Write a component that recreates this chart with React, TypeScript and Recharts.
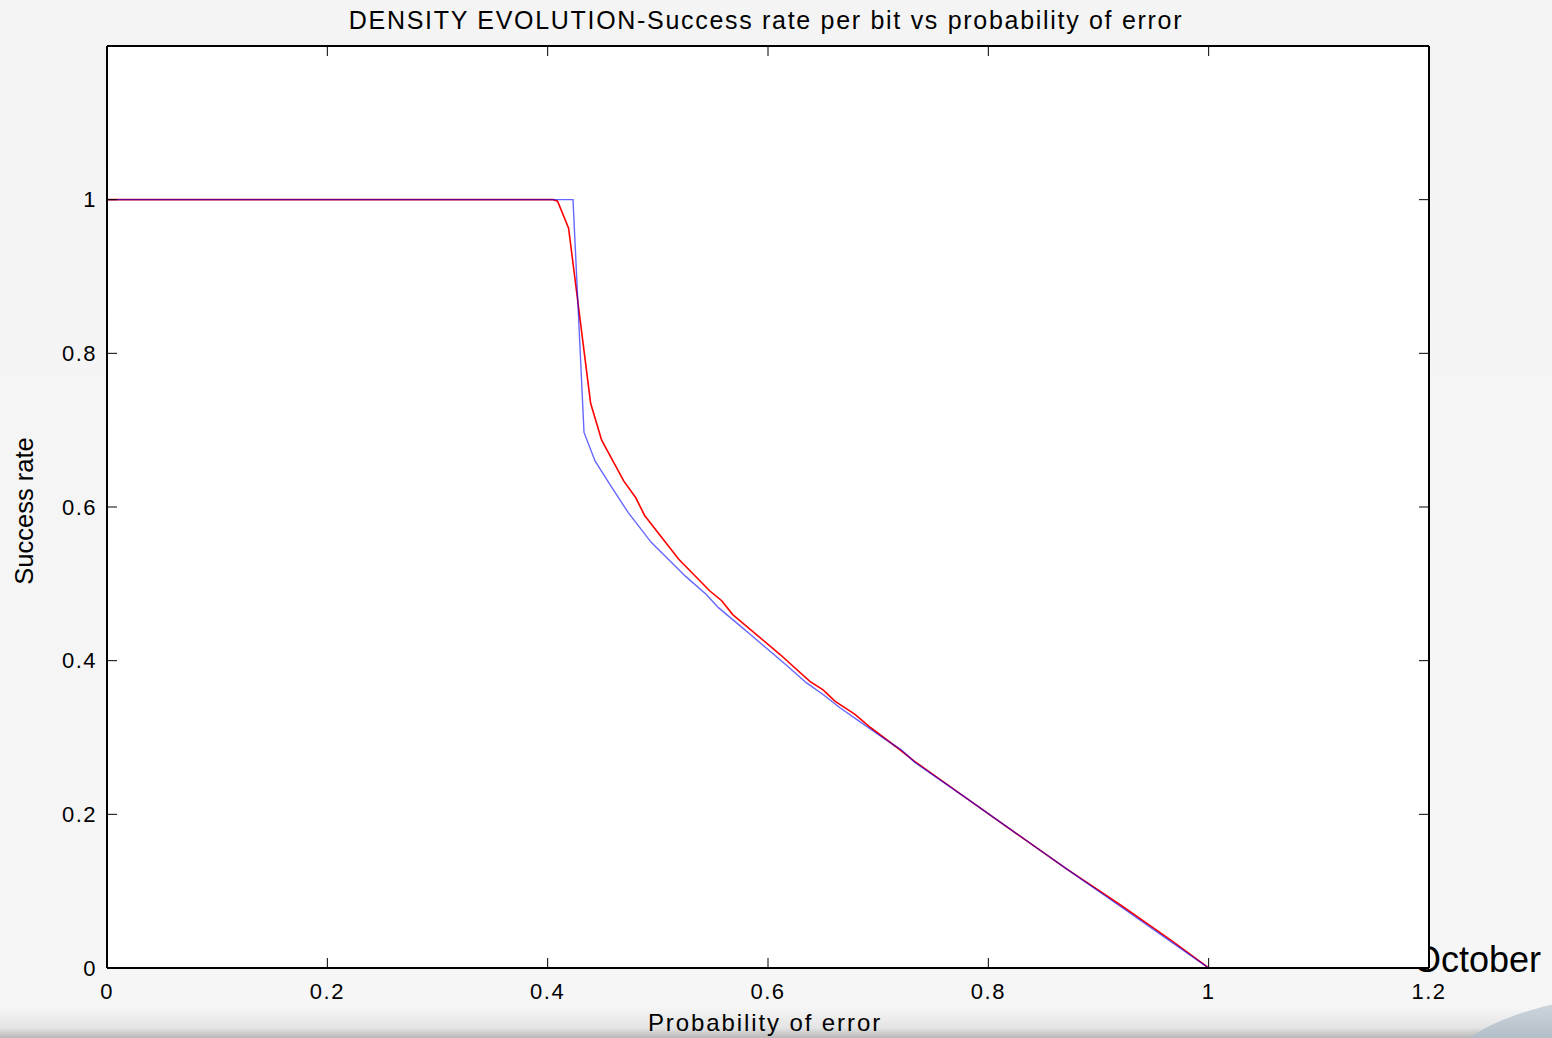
import { LineChart, Line, XAxis, YAxis, CartesianGrid } from "recharts";

const FONT = "'Liberation Sans', Arial, sans-serif";

const xTicks = [0, 0.2, 0.4, 0.6, 0.8, 1, 1.2];
const yTicks = [0, 0.2, 0.4, 0.6, 0.8, 1];

// red curve
const redPe = [0, 0.405, 0.409, 0.419, 0.439, 0.449, 0.469, 0.48, 0.488, 0.519, 0.547, 0.558, 0.568, 0.611, 0.638, 0.65, 0.661, 0.679, 0.693, 0.718, 0.733, 0.78, 0.871, 0.92, 0.966, 1.0];
const redRate = [1, 1, 0.998, 0.963, 0.735, 0.687, 0.634, 0.612, 0.589, 0.532, 0.491, 0.478, 0.46, 0.408, 0.373, 0.362, 0.347, 0.33, 0.313, 0.286, 0.269, 0.221, 0.129, 0.082, 0.036, 0];

// blue curve
const bluePe = [0, 0.423, 0.433, 0.443, 0.457, 0.473, 0.494, 0.525, 0.544, 0.555, 0.575, 0.584, 0.616, 0.635, 0.65, 0.665, 0.683, 0.702, 0.721, 0.733, 0.78, 0.871, 0.92, 0.966, 1.0];
const blueRate = [1, 1, 0.697, 0.66, 0.628, 0.593, 0.554, 0.51, 0.486, 0.469, 0.445, 0.434, 0.395, 0.371, 0.356, 0.339, 0.321, 0.302, 0.284, 0.268, 0.221, 0.129, 0.08, 0.034, 0];

const toPoints = (xs: number[], ys: number[]) => xs.map((pe, i) => ({ pe, rate: ys[i] }));

const tickStyle = { fill: "#000", fontSize: 22, fontFamily: FONT, letterSpacing: 1.5 };
const axisStroke = { stroke: "#000", strokeWidth: 2 };
const noLabel = () => "";

export default function App() {
  const red = toPoints(redPe, redRate);
  const blue = toPoints(bluePe, blueRate);
  return (
    <div
      style={{
        position: "absolute",
        left: 0,
        top: 0,
        width: 1552,
        height: 1038,
        overflow: "hidden",
        background: "linear-gradient(to bottom, #f4f4f4 0%, #f6f6f6 97%, #e4e4e4 99%, #b8b8b8 100%)",
      }}
    >
      <div
        style={{
          position: "absolute",
          left: 1440,
          top: 993,
          width: 220,
          height: 90,
          borderTopLeftRadius: "100% 100%",
          background: "linear-gradient(to bottom, #d6dce1, #b3bec8 50%, #9eabb7)",
        }}
      />
      <div
        style={{
          position: "absolute",
          left: 1413,
          top: 938,
          fontFamily: FONT,
          fontSize: 36,
          color: "#000",
          lineHeight: "44px",
        }}
      >
        October
      </div>
      <div
        style={{
          position: "absolute",
          left: 0,
          top: 6,
          width: 1532,
          textAlign: "center",
          fontFamily: FONT,
          fontSize: 25,
          letterSpacing: 1.7,
          color: "#000",
          lineHeight: "28px",
        }}
      >
        DENSITY EVOLUTION-Success rate per bit vs probability of error
      </div>
      <div style={{ position: "absolute", left: 0, top: 0 }}>
        <LineChart width={1552} height={1038} margin={{ top: 46, right: 123, bottom: 40, left: 24 }}>
          <CartesianGrid horizontal={false} vertical={false} fill="#fff" xAxisId="b" yAxisId="l" />
          <XAxis
            xAxisId="b"
            dataKey="pe"
            type="number"
            domain={[0, 1.2]}
            ticks={xTicks}
            allowDataOverflow
            height={30}
            tickSize={-10}
            tickMargin={25}
            axisLine={axisStroke}
            tickLine={{ stroke: "#000" }}
            tick={tickStyle}
            label={{
              value: "Probability of error",
              position: "bottom",
              offset: 16,
              dx: -3,
              fill: "#000",
              fontSize: 24,
              fontFamily: FONT,
              letterSpacing: 1.9,
            }}
          />
          <XAxis
            xAxisId="t"
            dataKey="pe"
            type="number"
            orientation="top"
            mirror
            domain={[0, 1.2]}
            ticks={xTicks}
            allowDataOverflow
            height={1}
            tickSize={10}
            tickFormatter={noLabel}
            axisLine={axisStroke}
            tickLine={{ stroke: "#000" }}
          />
          <YAxis
            yAxisId="l"
            type="number"
            domain={[0, 1.2]}
            ticks={yTicks}
            allowDataOverflow
            width={83}
            tickSize={-10}
            tickMargin={20}
            axisLine={axisStroke}
            tickLine={{ stroke: "#000" }}
            tick={tickStyle}
            label={{
              value: "Success rate",
              angle: -90,
              position: "insideLeft",
              offset: 0,
              dy: 4,
              fill: "#000",
              fontSize: 25.5,
              fontFamily: FONT,
              style: { textAnchor: "middle" },
            }}
          />
          <YAxis
            yAxisId="r"
            type="number"
            orientation="right"
            mirror
            domain={[0, 1.2]}
            ticks={yTicks}
            allowDataOverflow
            width={1}
            tickSize={10}
            tickFormatter={noLabel}
            axisLine={axisStroke}
            tickLine={{ stroke: "#000" }}
          />
          <Line
            xAxisId="b"
            yAxisId="l"
            data={red}
            dataKey="rate"
            type="linear"
            stroke="#ff0000"
            strokeWidth={1.6}
            dot={false}
            activeDot={false}
            isAnimationActive={false}
          />
          <Line
            xAxisId="b"
            yAxisId="l"
            data={blue}
            dataKey="rate"
            type="linear"
            stroke="#0000ff"
            strokeOpacity={0.6}
            strokeWidth={1.4}
            dot={false}
            activeDot={false}
            isAnimationActive={false}
          />
        </LineChart>
      </div>
    </div>
  );
}
